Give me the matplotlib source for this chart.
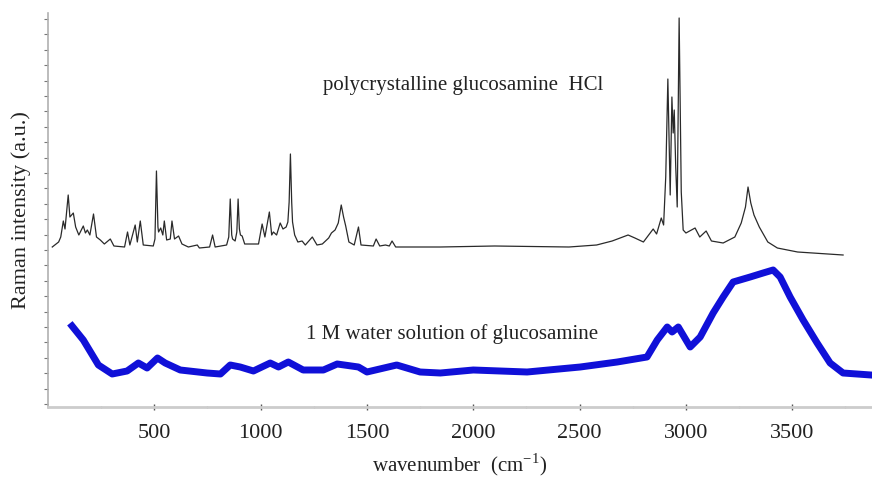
import numpy as np
import matplotlib
matplotlib.use("Agg")
from matplotlib import pyplot as plt
from matplotlib.ticker import MultipleLocator, FixedLocator, NullFormatter

# polycrystalline glucosamine HCl (black)
hcl_wn = [20, 50, 60, 72, 80, 95, 103, 119, 130, 145, 166, 176, 185, 197, 214, 228,
          246, 265, 293, 310, 360, 374, 385, 410, 420, 434, 448, 495, 503, 510, 517, 520, 530,
          540, 547, 558, 575, 583, 595, 614, 630, 660, 702, 712, 760, 774, 786, 840,
          850, 857, 864, 868, 880, 888, 894, 900, 905, 913, 925, 990, 1007, 1020, 1041, 1052, 1060, 1075,
          1092, 1105, 1120, 1128, 1134, 1140, 1146, 1150, 1160, 1175, 1195, 1210, 1243, 1265, 1290,
          1320, 1333, 1350, 1365, 1379, 1390, 1400, 1415, 1440, 1460, 1472, 1530, 1543,
          1560, 1587, 1605, 1618, 1635, 1845, 2100, 2450, 2580, 2653, 2728, 2760, 2800,
          2846, 2862, 2884, 2895, 2905, 2915, 2926, 2934, 2940, 2945, 2952, 2959, 2968,
          2978, 2987, 3000, 3043, 3065, 3095, 3120, 3175, 3230, 3260, 3280, 3292, 3305, 3320,
          3345, 3385, 3430, 3525, 3739]
hcl_int = [160, 165, 170, 186, 178, 212, 190, 194, 180, 172, 181, 174, 177, 172, 193, 170,
           167, 163, 168, 161, 160, 175, 162, 182, 165, 186, 162, 161, 168, 236, 180, 175, 179,
           172, 186, 167, 168, 186, 168, 171, 163, 160, 162, 159, 160, 172, 160, 162,
           170, 208, 172, 168, 166, 175, 208, 178, 172, 171, 163, 163, 183, 170, 195, 172, 175, 172,
           184, 178, 180, 185, 205, 253, 205, 185, 172, 165, 166, 162, 170, 162, 163,
           169, 174, 177, 184, 202, 190, 181, 165, 162, 180, 162, 161, 168,
           161, 162, 161, 166, 160, 160, 161, 160, 162, 166, 172, 169, 165,
           178, 173, 189, 182, 230, 328, 212, 310, 274, 297, 240, 200, 389,
           215, 177, 174, 179, 170, 176, 166, 164, 170, 184, 200, 220, 204, 192,
           180, 165, 159, 155, 152]

# 1 M water solution of glucosamine (blue)
sol_wn = [113, 166, 237, 302, 372, 425, 466, 515, 551, 622, 748, 811, 857, 904, 966,
          1045, 1084, 1130, 1200, 1295, 1360, 1460, 1500, 1640, 1750, 1845, 2000, 2253,
          2503, 2677, 2817, 2865, 2912, 2935, 2964, 3020, 3067, 3128, 3175, 3222, 3302,
          3363, 3410, 3443, 3490, 3551, 3617, 3678, 3739, 3870]
sol_int = [81, 67, 42, 33, 36, 44, 39, 49, 44, 37, 34, 33, 42, 40, 36,
           44, 40, 45, 37, 37, 43, 40, 35, 42, 35, 34, 37, 35,
           40, 45, 50, 67, 80, 75, 80, 60, 70, 94, 110, 125, 130,
           134, 137, 130, 110, 87, 64, 44, 34, 32]

xticks = [500, 1000, 1500, 2000, 2500, 3000, 3500]

plt.rcParams['font.family'] = ['Liberation Serif', 'DejaVu Serif']

fig = plt.figure(figsize=(8.72, 4.83), dpi=100)
ax = fig.add_axes([48 / 872, 76 / 483, 1 - 48 / 872, 394 / 483])

ax.plot(hcl_wn, hcl_int, color='#2a2a2a', lw=0.9)
ax.plot(sol_wn, sol_int, color='#1010d8', lw=5, solid_joinstyle='round')

ax.set_xlim(0, 3875)
ax.set_ylim(0, 394)

ax.xaxis.set_major_locator(FixedLocator(xticks))
ax.xaxis.set_minor_locator(MultipleLocator(250))
ax.yaxis.set_major_locator(FixedLocator(np.linspace(3, 388, 26)))
ax.yaxis.set_major_formatter(NullFormatter())

ax.tick_params(axis='x', which='major', direction='inout', length=4, width=1,
               colors='#555555', labelsize=16, labelcolor='#222222', pad=10)
ax.tick_params(axis='x', which='minor', direction='inout', length=2, width=1,
               colors='#888888')
ax.tick_params(axis='y', which='major', direction='out', length=3, width=0.8,
               colors='#777777')

for s in ['top', 'right']:
    ax.spines[s].set_visible(False)
ax.spines['left'].set_color('#b0b0b0')
ax.spines['left'].set_linewidth(1.2)
ax.spines['bottom'].set_color('#cccccc')
ax.spines['bottom'].set_linewidth(2)

ax.set_xlabel(r'wavenumber  (cm$^{\mathregular{-1}}$)', fontsize=15, color='#222222',
              labelpad=6)
ax.set_ylabel('Raman intensity (a.u.)', fontsize=16, color='#222222', labelpad=6)

ax.text(1950, 322, 'polycrystalline glucosamine  HCl', fontsize=15,
        ha='center', va='center', color='#222222')
ax.text(1900, 73, '1 M water solution of glucosamine', fontsize=15,
        ha='center', va='center', color='#222222')

fig.savefig('out.png', dpi=100)
